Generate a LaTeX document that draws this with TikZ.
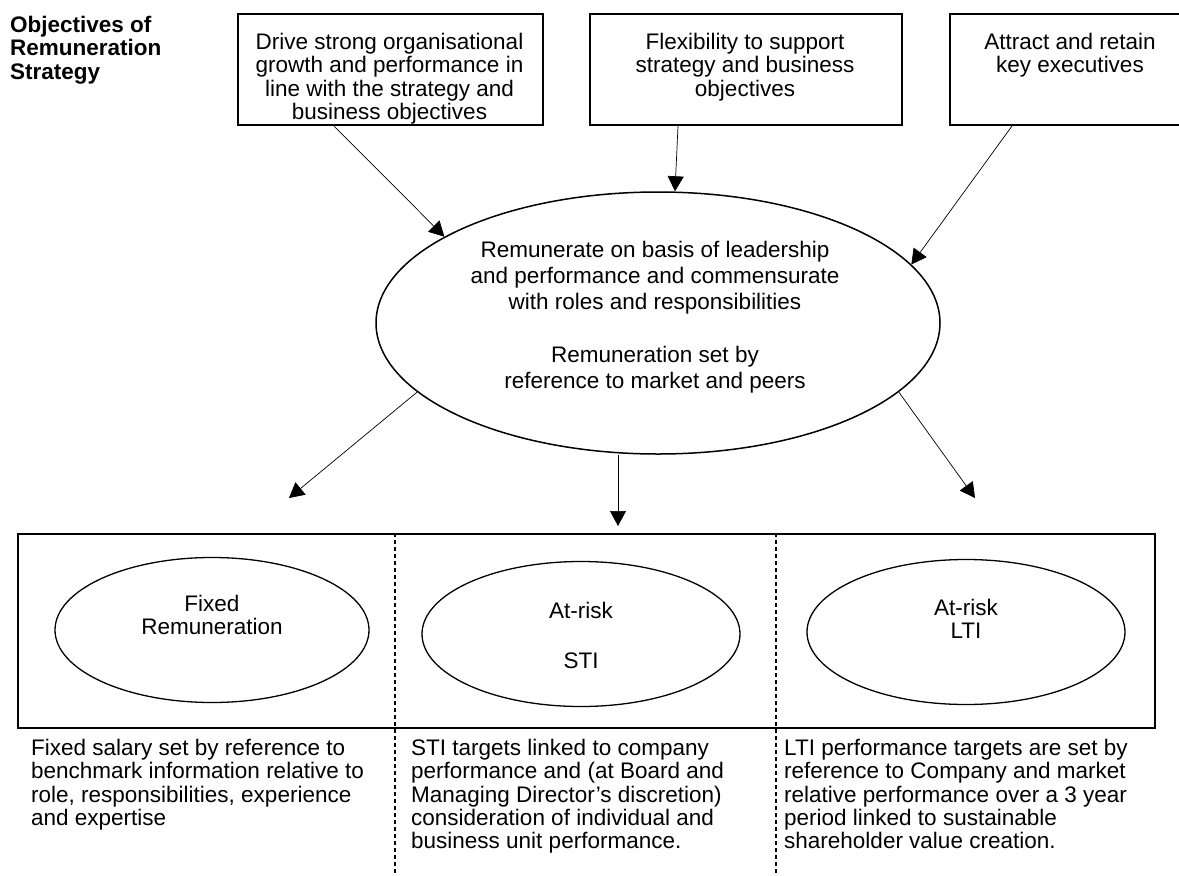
\documentclass[tikz,border=0pt]{standalone}
\usepackage{fontspec}
\setmainfont{Liberation Sans}
\usetikzlibrary{arrows.meta, shapes.geometric}

\newcommand{\remfont}{\fontsize{22.5}{23.3}\selectfont}
\newcommand{\ovalfont}{\fontsize{22.5}{26.2}\selectfont}

\tikzset{
	objbox/.style={draw, line width=2pt, minimum height=111pt, inner sep=0pt, anchor=north west},
	boxtext/.style={font=\remfont, inner sep=0pt, align=center, anchor=north},
	notetext/.style={font=\remfont, inner sep=0pt, align=left, anchor=north west},
	payoval/.style={draw, ellipse, line width=1.3pt, minimum width=318pt, minimum height=145pt, inner sep=0pt},
	arr/.style={line width=0.7pt, -{Triangle[width=16pt,length=15pt]}},
	divider/.style={line width=1.3pt, dash pattern=on 4pt off 3pt}
}

\begin{document}
\begin{tikzpicture}[x=1pt, y=-1pt]
	\useasboundingbox (0,0) rectangle (1179,876);

	\node[notetext, font=\remfont\bfseries] (title) at (10,16) {Objectives of\\Remuneration\\Strategy};

	% objectives
	\node[objbox, minimum width=305pt] (drive) at (237,13) {};
	\node[objbox, minimum width=312pt] (flex) at (589,13) {};
	\node[objbox, minimum width=242pt] (attract) at (949,13) {};
	\node[boxtext] (drivetxt) at (389.5,33) {Drive strong organisational\\growth and performance in\\line with the strategy and\\business objectives};
	\node[boxtext] (flextxt) at (745,33) {Flexibility to support\\strategy and business\\objectives};
	\node[boxtext] (attracttxt) at (1070,33) {Attract and retain\\key executives};

	% remuneration
	\node[draw, ellipse, line width=1.5pt, minimum width=564pt, minimum height=262pt, inner sep=0pt] (rem) at (658,323) {};
	\node[boxtext, font=\ovalfont] (remtxt) at (655,241) {Remunerate on basis of leadership\\and performance and commensurate\\with roles and responsibilities\\[26.2pt]Remuneration set by\\reference to market and peers};

	\draw[arr] ([xshift=97pt]drive.south west) -- (rem.158);
	\draw[arr] ([xshift=89pt]flex.south west) -- ([xshift=17pt]rem.north);
	\draw[arr] ([xshift=63pt]attract.south west) -- (rem.13.5);

	% components
	\node[draw, line width=2pt, minimum width=1137pt, minimum height=194pt, inner sep=0pt, anchor=north west] (paybox) at (17,533) {};
	\coordinate (div1) at (395,876);
	\coordinate (div2) at (776,876);
	\draw[divider] (paybox.north -| div1) -- (div1);
	\draw[divider] (paybox.north -| div2) -- (div2);

	\node[payoval, minimum width=314pt] (fixed) at (212,630) {};
	\node[payoval] (sti) at (581,634) {};
	\node[payoval] (lti) at (966,632) {};
	\node[boxtext] (fixedtxt) at (212,595) {Fixed\\Remuneration};
	\node[boxtext] (stitxt) at (581,602) {At-risk\\[27pt]STI};
	\node[boxtext] (ltitxt) at (966,599) {At-risk\\LTI};

	\coordinate (fixedin) at (289,498);
	\coordinate (stiin) at (618,526);
	\coordinate (ltiin) at (975,498);
	\draw[arr] (rem.196) -- (fixedin);
	\draw[arr] (rem.south -| stiin) -- (stiin);
	\draw[arr] (rem.-16) -- (ltiin);

	\node[notetext] (fixednote) at (31,739) {Fixed salary set by reference to\\benchmark information relative to\\role, responsibilities, experience\\and expertise};
	\node[notetext] (stinote) at (411,739) {STI targets linked to company\\performance and (at Board and\\Managing Director's discretion)\\consideration of individual and\\business unit performance.};
	\node[notetext] (ltinote) at (784,739) {LTI performance targets are set by\\reference to Company and market\\relative performance over a 3 year\\period linked to sustainable\\shareholder value creation.};
\end{tikzpicture}
\end{document}
